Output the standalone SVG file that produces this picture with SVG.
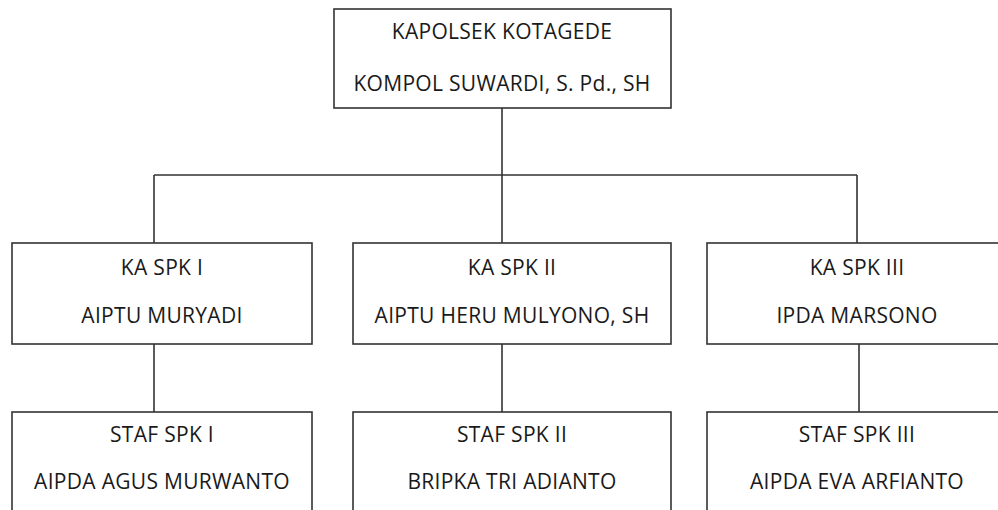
<svg xmlns="http://www.w3.org/2000/svg" width="998" height="510" viewBox="0 0 998 510">
<style>
.box{fill:#fff;stroke:#333;stroke-width:1.6}
.conn{fill:none;stroke:#333;stroke-width:1.6}
text{font-family:"Open Sans","Noto Sans",sans-serif;font-size:21px;letter-spacing:0.3px;fill:#1a1a1a;text-anchor:middle}
</style>
<rect width="998" height="510" fill="#fff"/>
<g id="connectors">
<path class="conn" d="M502,108 V175 M154,175 H857 M154,175 V243 M502,175 V243 M857,175 V243"/>
<path class="conn" d="M154,344 V412 M502,344 V412 M859,344 V412"/>
</g>
<g id="kapolsek">
<rect class="box" x="334" y="9" width="337" height="99"/>
<text x="502" y="39">KAPOLSEK KOTAGEDE</text>
<text x="502" y="91">KOMPOL SUWARDI, S. Pd., SH</text>
</g>
<g id="ka-spk-1">
<rect class="box" x="12" y="243" width="300" height="101"/>
<text x="162" y="275">KA SPK I</text>
<text x="162" y="323">AIPTU MURYADI</text>
</g>
<g id="ka-spk-2">
<rect class="box" x="353" y="243" width="318" height="101"/>
<text x="512" y="275">KA SPK II</text>
<text x="512" y="323">AIPTU HERU MULYONO, SH</text>
</g>
<g id="ka-spk-3">
<rect class="box" x="707" y="243" width="300" height="101"/>
<text x="857" y="275">KA SPK III</text>
<text x="857" y="323">IPDA MARSONO</text>
</g>
<g id="staf-spk-1">
<rect class="box" x="12" y="412" width="300" height="110"/>
<text x="162" y="442">STAF SPK I</text>
<text x="162" y="489">AIPDA AGUS MURWANTO</text>
</g>
<g id="staf-spk-2">
<rect class="box" x="353" y="412" width="318" height="110"/>
<text x="512" y="442">STAF SPK II</text>
<text x="512" y="489">BRIPKA TRI ADIANTO</text>
</g>
<g id="staf-spk-3">
<rect class="box" x="707" y="412" width="300" height="110"/>
<text x="857" y="442">STAF SPK III</text>
<text x="857" y="489">AIPDA EVA ARFIANTO</text>
</g>
</svg>
